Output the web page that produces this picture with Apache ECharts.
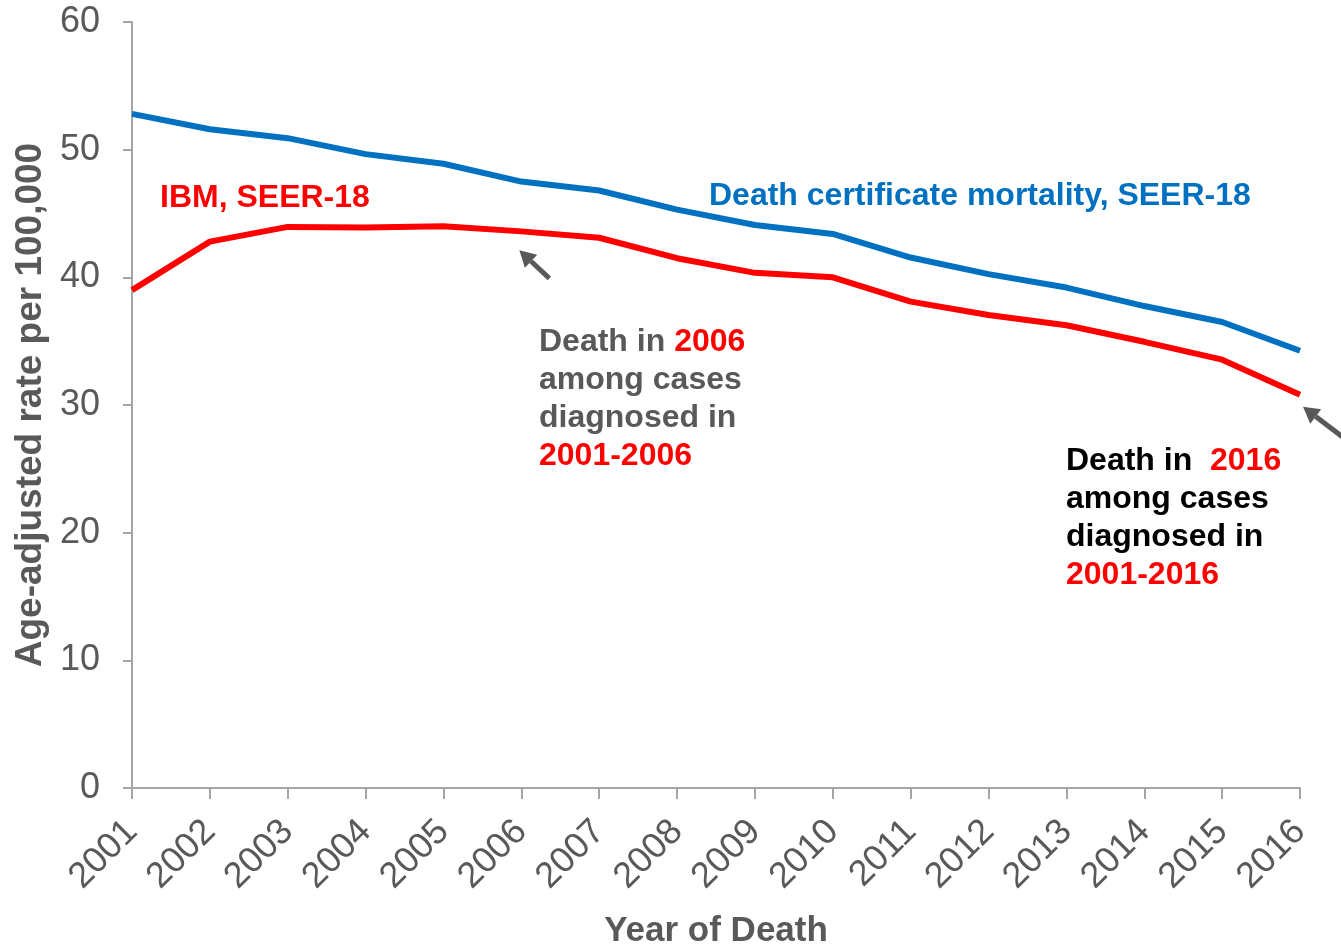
<!DOCTYPE html>
<html>
<head>
<meta charset="utf-8">
<script src="https://cdn.jsdelivr.net/npm/echarts@6/dist/echarts.min.js"></script>
<style>
  html, body { margin: 0; padding: 0; background: #fff; }
  #chart { width: 1341px; height: 947px; }
</style>
</head>
<body>
<div id="chart"></div>
<script>
// 数据
const years = ["2001", "2002", "2003", "2004", "2005", "2006", "2007", "2008",
  "2009", "2010", "2011", "2012", "2013", "2014", "2015", "2016"];
const deathCert = [52.8, 51.6, 50.9, 49.65, 48.9, 47.5, 46.8, 45.3,
  44.1, 43.4, 41.55, 40.25, 39.2, 37.75, 36.5, 34.25];
const ibm = [39.0, 42.8, 43.95, 43.9, 44.0, 43.6, 43.1, 41.5,
  40.35, 40.0, 38.1, 37.05, 36.25, 34.95, 33.55, 30.8];
const yTicks = [0, 10, 20, 30, 40, 50, 60];

const font = "'Liberation Sans', Arial, sans-serif";
const gray = "#595959";
const axisGray = "#a6a6a6";
const blue = "#0070c0";
const red = "#ff0000";

let myChart = echarts.init(document.getElementById("chart"));

let option = {
  backgroundColor: "#fff",
  animation: false,
  grid: {
    left: 132,
    right: 41,
    top: 22,
    bottom: 159,
    containLabel: false,
    outerBoundsMode: "none"
  },
  xAxis: {
    type: "category",
    data: years,
    boundaryGap: false,
    name: "Year of Death",
    nameLocation: "middle",
    nameGap: 126,
    nameTextStyle: {
      fontFamily: font,
      fontSize: 35,
      fontWeight: "bold",
      color: gray
    },
    axisLine: { lineStyle: { color: axisGray, width: 2 } },
    axisTick: { alignWithLabel: true, length: 11, lineStyle: { color: axisGray, width: 2 } },
    axisLabel: {
      rotate: 45,
      margin: 38,
      fontFamily: font,
      fontSize: 36,
      color: gray
    },
    splitLine: { show: false }
  },
  yAxis: {
    type: "value",
    min: yTicks[0],
    max: yTicks[yTicks.length - 1],
    interval: 10,
    name: "Age-adjusted rate per 100,000",
    nameLocation: "middle",
    nameGap: 82,
    nameTextStyle: {
      fontFamily: font,
      fontSize: 37,
      fontWeight: "bold",
      color: gray
    },
    axisLine: { show: true, lineStyle: { color: axisGray, width: 2 } },
    axisTick: { show: true, length: 9, lineStyle: { color: axisGray, width: 2 } },
    axisLabel: {
      margin: 32,
      fontFamily: font,
      fontSize: 36,
      color: gray
    },
    splitLine: { show: false }
  },
  series: [{
    name: "Death certificate mortality, SEER-18",
    type: "line",
    data: deathCert,
    symbol: "none",
    lineStyle: { color: blue, width: 6 },
    z: 3
  }, {
    name: "IBM, SEER-18",
    type: "line",
    data: ibm,
    symbol: "none",
    lineStyle: { color: red, width: 6 },
    z: 3
  }]
};
myChart.setOption(option);

// 箭头
function arrow(tail, tip) {
  let dx = tip[0] - tail[0];
  let dy = tip[1] - tail[1];
  let len = Math.sqrt(dx * dx + dy * dy);
  let ux = dx / len, uy = dy / len;
  let headLen = 16, headW = 9;
  let bx = tip[0] - ux * headLen, by = tip[1] - uy * headLen;
  return [{
    type: "line",
    shape: { x1: tail[0], y1: tail[1], x2: bx, y2: by },
    style: { stroke: gray, lineWidth: 5 }
  }, {
    type: "polygon",
    shape: {
      points: [
        tip,
        [bx - uy * headW, by + ux * headW],
        [bx + uy * headW, by - ux * headW]
      ]
    },
    style: { fill: gray }
  }];
}

let p2006 = myChart.convertToPixel({ seriesIndex: 1 }, [5, ibm[5]]);
let p2016 = myChart.convertToPixel({ seriesIndex: 1 }, [15, ibm[15]]);

let bold = { fontFamily: font, fontSize: 32, fontWeight: "bold", lineHeight: 38 };

myChart.setOption({
  graphic: [{
    type: "text",
    left: 160,
    top: 179,
    style: Object.assign({ text: "IBM, SEER-18", fill: red }, bold)
  }, {
    type: "text",
    left: 709,
    top: 177,
    style: Object.assign({ text: "Death certificate mortality, SEER-18", fill: blue }, bold)
  }, {
    type: "text",
    left: 539,
    top: 323,
    style: Object.assign({
      text: "{g|Death in }{r|2006}\n{g|among cases}\n{g|diagnosed in}\n{r|2001-2006}",
      rich: {
        g: Object.assign({ fill: gray }, bold),
        r: Object.assign({ fill: red }, bold)
      }
    }, bold)
  }, {
    type: "text",
    left: 1066,
    top: 442,
    style: Object.assign({
      text: "{k|Death in  }{r|2016}\n{k|among cases}\n{k|diagnosed in}\n{r|2001-2016}",
      rich: {
        k: Object.assign({ fill: "#000" }, bold),
        r: Object.assign({ fill: red }, bold)
      }
    }, bold)
  }].concat(
    arrow([p2006[0] + 28, p2006[1] + 47], [p2006[0] - 2, p2006[1] + 19]),
    arrow([p2016[0] + 45, p2016[1] + 44], [p2016[0] + 3, p2016[1] + 12])
  )
});
</script>
</body>
</html>
